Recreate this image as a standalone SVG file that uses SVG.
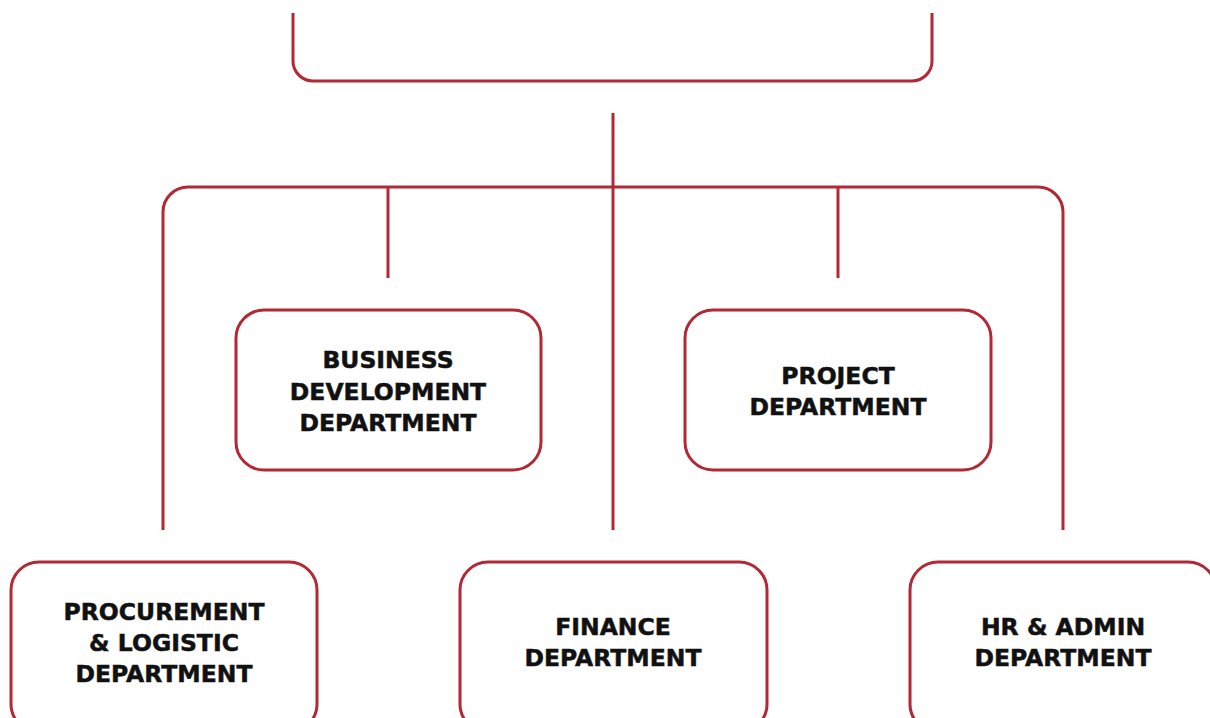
<svg xmlns="http://www.w3.org/2000/svg" width="1210" height="718" viewBox="0 0 1210 718">
<style>
.ln{fill:none;stroke:#b12935;stroke-width:3;stroke-linecap:butt}
.bx{fill:#fff;stroke:#b12935;stroke-width:3}
.t{font-family:"DejaVu Sans",sans-serif;font-weight:bold;font-size:23.5px;fill:#111;stroke:#111;stroke-width:0.5;text-anchor:middle}
</style>
<rect width="1210" height="718" fill="#fff"/>
<g id="top">
<path class="ln" d="M293,13 V61 A20,20 0 0 0 313,81 H912 A20,20 0 0 0 932,61 V13"/>
</g>
<g id="connectors">
<path class="ln" d="M613,113 V530"/>
<path class="ln" d="M163,530 V212 A25,25 0 0 1 188,187 H1038 A25,25 0 0 1 1063,212 V530"/>
<path class="ln" d="M388,187 V278"/>
<path class="ln" d="M838,187 V278"/>
</g>
<g id="business">
<rect class="bx" x="236" y="310" width="305" height="160" rx="28"/>
<text class="t" x="388" y="368">BUSINESS</text>
<text class="t" x="388" y="400">DEVELOPMENT</text>
<text class="t" x="388" y="431">DEPARTMENT</text>
</g>
<g id="project">
<rect class="bx" x="685" y="310" width="306" height="160" rx="28"/>
<text class="t" x="838" y="384">PROJECT</text>
<text class="t" x="838" y="415">DEPARTMENT</text>
</g>
<g id="procurement">
<rect class="bx" x="11" y="562" width="306" height="170" rx="28"/>
<text class="t" x="164" y="620">PROCUREMENT</text>
<text class="t" x="164" y="651">&amp; LOGISTIC</text>
<text class="t" x="164" y="682">DEPARTMENT</text>
</g>
<g id="finance">
<rect class="bx" x="460" y="562" width="307" height="170" rx="28"/>
<text class="t" x="613" y="635">FINANCE</text>
<text class="t" x="613" y="666">DEPARTMENT</text>
</g>
<g id="hr">
<rect class="bx" x="910" y="562" width="306" height="170" rx="28"/>
<text class="t" x="1063" y="635">HR &amp; ADMIN</text>
<text class="t" x="1063" y="666">DEPARTMENT</text>
</g>
</svg>
